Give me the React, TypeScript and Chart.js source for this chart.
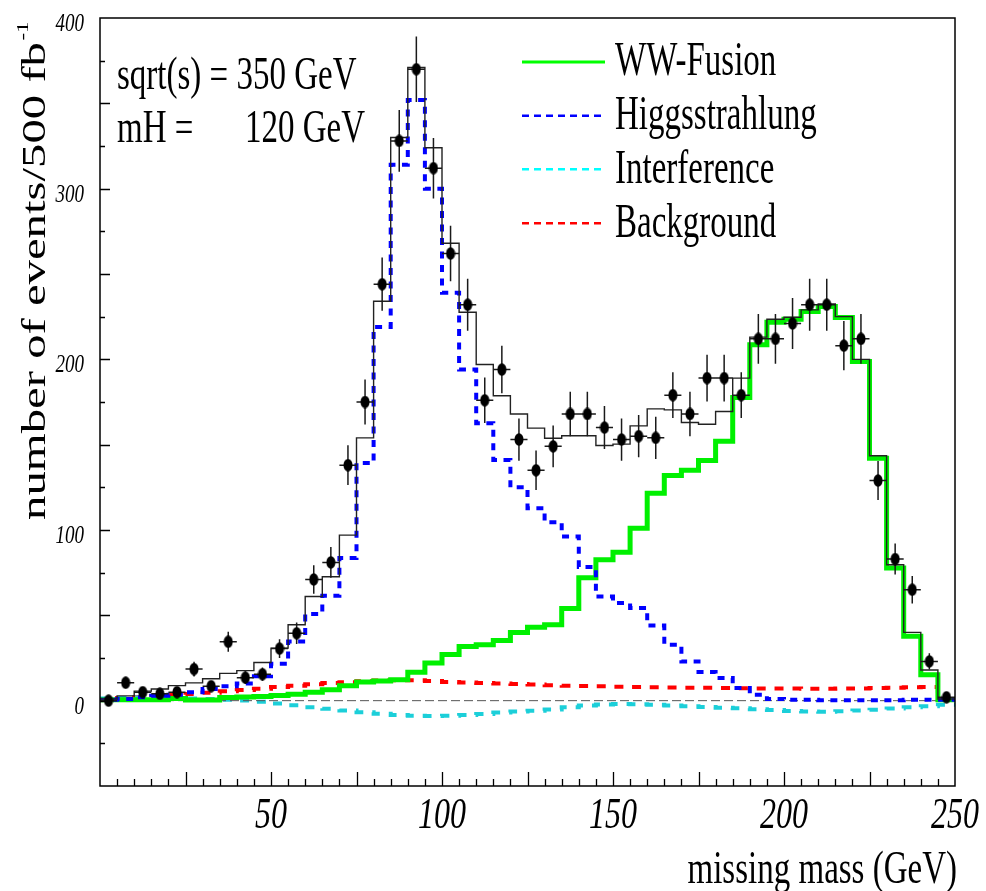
import React, { useEffect, useRef } from "react";
import { Chart, registerables } from "chart.js";

Chart.register(...registerables);

// ---------- data ----------
const BIN_HALF_WIDTH = 2.5;

const binCenters = [
  2.5, 7.5, 12.5, 17.5, 22.5, 27.5, 32.5, 37.5, 42.5, 47.5,
  52.5, 57.5, 62.5, 67.5, 72.5, 77.5, 82.5, 87.5, 92.5, 97.5,
  102.5, 107.5, 112.5, 117.5, 122.5, 127.5, 132.5, 137.5, 142.5, 147.5,
  152.5, 157.5, 162.5, 167.5, 172.5, 177.5, 182.5, 187.5, 192.5, 197.5,
  202.5, 207.5, 212.5, 217.5, 222.5, 227.5, 232.5, 237.5, 242.5, 247.5,
];

const dataCounts = [
  0, 10.5, 5, 4, 5, 18.5, 8.5, 34.5, 13.5, 15.5,
  30.5, 39.5, 71, 81, 138, 175, 244, 328, 370, 312,
  262, 232, 176, 194, 153, 135, 149, 168, 168, 160,
  153, 155, 154, 179, 168, 189, 189, 179, 212, 212,
  221, 232, 232, 208, 212, 129, 83, 65, 23, 2,
];

const dataErrors = [
  0, 3.2, 2.2, 2, 2.2, 4.3, 2.9, 5.9, 3.7, 3.9,
  5.5, 6.3, 8.4, 9, 11.7, 13.2, 15.6, 18.1, 19.2, 17.7,
  16.2, 15.2, 13.3, 13.9, 12.4, 11.6, 12.2, 13, 13, 12.6,
  12.4, 12.4, 12.4, 13.4, 13, 13.7, 13.7, 13.4, 14.6, 14.6,
  14.9, 15.2, 15.2, 14.4, 14.6, 11.4, 9.1, 8.1, 4.8, 1.4,
];

const totalExpected = [
  1, 2.8, 5.6, 6.8, 8.8, 10.4, 12.8, 16, 17.6, 22.4,
  30.8, 44.5, 61, 72.6, 97, 154, 234, 330, 371, 324,
  268, 227.6, 197, 178.7, 168, 159.7, 153.8, 155.2, 155.2, 149.5,
  150.3, 161, 171, 170.4, 163, 162, 169.4, 189, 213, 223.5,
  224.7, 229, 232.5, 225, 200, 143.5, 79.6, 40, 18, 1,
];

const wwFusion = [
  0.6, 0.6, 0.6, 0.6, 1.2, 0.4, 0.4, 1.8, 2.1, 2.5,
  3.1, 3.7, 4.9, 6.4, 8.8, 10.9, 11.5, 12.3, 16.6, 22,
  27, 31.8, 32.8, 35.3, 40, 43, 44.5, 54, 72, 82.6,
  87, 101, 121.6, 132, 135, 140.7, 152, 177.6, 208.5, 221.7,
  223.5, 228, 231, 224.5, 198.7, 142, 77.7, 37.7, 15.2, 0.5,
];

const higgsstrahlung = [
  0.5, 1, 2, 2.9, 3.5, 4.9, 6.8, 8.4, 10, 14.3,
  21.7, 34.7, 50.8, 61.5, 83.6, 139.2, 219, 314, 352, 300,
  239, 194, 162.6, 141, 125, 112.8, 104.6, 96.2, 78.3, 61,
  57.2, 54.3, 44, 32.8, 23, 16.8, 13.3, 7.4, 3.5, 1,
  0.5, 0.5, 0.3, 0.3, 0.3, 0.3, 0.3, 0.5, 0.5, 0.5,
];

const interference = [
  1.2, 1.5, 1.8, 1.8, 1.6, 1.3, 1.0, 0.6, 0.1, -0.6,
  -1.7, -2.7, -3.8, -4.8, -5.8, -6.8, -7.7, -8.4, -8.9, -9.0,
  -8.9, -8.4, -7.8, -7.0, -6.4, -5.9, -5.2, -3.8, -2.8, -2.2,
  -2.0, -2.1, -2.4, -2.8, -3.3, -3.7, -4.1, -4.5, -5.0, -5.5,
  -6.0, -6.4, -6.5, -6.2, -5.8, -5.3, -4.6, -3.9, -3.2, -2.4,
];

const background = [
  0.8, 1.5, 2, 2.6, 3.3, 3.9, 4.6, 5.5, 6.3, 7,
  8, 8.8, 9.6, 10.3, 10.8, 11.4, 11.8, 12, 11.9, 11.5,
  11, 10.6, 10.3, 10, 9.7, 9.4, 9.1, 8.8, 8.6, 8.4,
  8.2, 8, 7.8, 7.7, 7.6, 7.5, 7.4, 7.3, 7.2, 7.1,
  7.1, 7, 7, 7.1, 7.2, 7.4, 7.6, 7.8, 8, 1,
];

const xTickLabels = [50, 100, 150, 200, 250];
const yTickLabels = [0, 100, 200, 300, 400];
const legendLabels = ["WW-Fusion", "Higgsstrahlung", "Interference", "Background"];

// ---------- styling ----------
const SERIF = '"Liberation Serif", "Times New Roman", Times, serif';
const STRETCH = 1.43;
const GREEN = "#00f000";
const BLUE = "#0000ff";
const CYAN_PLOT = "#1ccfd9";
const RED = "#ff0000";

function histPoints(values: number[]) {
  const pts = values.map((v, i) => ({ x: binCenters[i] - BIN_HALF_WIDTH, y: v }));
  const last = values.length - 1;
  pts.push({ x: binCenters[last] + BIN_HALF_WIDTH, y: values[last] });
  return pts;
}

function stretchedText(
  ctx: CanvasRenderingContext2D,
  text: string,
  x: number,
  y: number,
  size: number,
  sy: number,
  align: CanvasTextAlign,
  italic = false
) {
  ctx.save();
  ctx.translate(x, y);
  ctx.scale(1, sy);
  ctx.font = `${italic ? "italic " : ""}${size}px ${SERIF}`;
  ctx.textAlign = align;
  ctx.textBaseline = "alphabetic";
  ctx.fillStyle = "#000";
  ctx.fillText(text, 0, 0);
  ctx.restore();
}

function makeDot(): HTMLCanvasElement {
  const c = document.createElement("canvas");
  c.width = 10;
  c.height = 13;
  const g = c.getContext("2d")!;
  g.fillStyle = "#000";
  g.beginPath();
  g.ellipse(5, 6.5, 4.5, 6.2, 0, 0, Math.PI * 2);
  g.fill();
  return c;
}

const decorPlugin = {
  id: "decor",
  beforeDatasetDraw(chart: any, args: any) {
    if (args.index !== 0) return;
    const ctx: CanvasRenderingContext2D = chart.ctx;
    const xs = chart.scales.x;
    const ys = chart.scales.y;
    ctx.save();
    ctx.strokeStyle = "#1a1a1a";
    ctx.lineWidth = 1.5;
    ctx.beginPath();
    dataCounts.forEach((n, i) => {
      const px = xs.getPixelForValue(binCenters[i]);
      const py = ys.getPixelForValue(n);
      const e = dataErrors[i];
      if (e > 0) {
        ctx.moveTo(px, ys.getPixelForValue(n + e));
        ctx.lineTo(px, ys.getPixelForValue(n - e));
      }
      ctx.moveTo(xs.getPixelForValue(binCenters[i] - BIN_HALF_WIDTH), py);
      ctx.lineTo(xs.getPixelForValue(binCenters[i] + BIN_HALF_WIDTH), py);
    });
    ctx.stroke();
    ctx.restore();
  },
  afterDraw(chart: any) {
    const ctx: CanvasRenderingContext2D = chart.ctx;
    const xs = chart.scales.x;
    const ys = chart.scales.y;
    const a = chart.chartArea;
    ctx.save();

    // frame
    ctx.strokeStyle = "#000";
    ctx.lineWidth = 1.5;
    ctx.strokeRect(a.left, a.top, a.right - a.left, a.bottom - a.top);

    // x ticks (inside, from bottom)
    ctx.lineWidth = 1.3;
    ctx.beginPath();
    for (let v = 5; v < 250; v += 5) {
      const px = Math.round(xs.getPixelForValue(v)) + 0.5;
      const len = v % 25 === 0 ? 14 : 7;
      ctx.moveTo(px, a.bottom);
      ctx.lineTo(px, a.bottom - len);
    }
    // y ticks (inside, from left)
    for (let v = -25; v < 400; v += 25) {
      const py = Math.round(ys.getPixelForValue(v)) + 0.5;
      const len = v % 50 === 0 ? 10 : 5;
      ctx.moveTo(a.left, py);
      ctx.lineTo(a.left + len, py);
    }
    ctx.stroke();

    // tick labels
    xTickLabels.forEach((v) => {
      stretchedText(ctx, String(v), xs.getPixelForValue(v), 828, 32, 1.4, "center", true);
    });
    yTickLabels.forEach((v) => {
      stretchedText(ctx, String(v), 84, ys.getPixelForValue(v) + 13, 19, 1.35, "right", true);
    });

    // x title
    stretchedText(ctx, "missing mass (GeV)", 957, 883, 33, 1.38, "right");

    // y title (rotated, stretched along its baseline)
    ctx.save();
    ctx.translate(45, 520);
    ctx.rotate(-Math.PI / 2);
    ctx.font = `34px ${SERIF}`;
    ctx.fillStyle = "#000";
    ctx.textAlign = "left";
    ctx.textBaseline = "alphabetic";
    const mainTitle = "number of events/500 fb";
    const w = ctx.measureText(mainTitle).width;
    const sx = 478 / w;
    ctx.scale(sx, 1);
    ctx.fillText(mainTitle, 0, 0);
    ctx.font = `16px ${SERIF}`;
    ctx.fillText("-1", w + 1, -17);
    ctx.restore();

    // annotations
    stretchedText(ctx, "sqrt(s) = 350 GeV", 117, 89, 33, STRETCH, "left");
    stretchedText(ctx, "mH =", 117, 141.5, 33, STRETCH, "left");
    stretchedText(ctx, "120 GeV", 245, 141.5, 33, STRETCH, "left");

    // legend
    const legendY = [62, 115.7, 169.3, 223.3];
    const legendStyles = [
      { color: "#00ff00", dash: [] as number[], width: 2.8 },
      { color: BLUE, dash: [7, 5], width: 2.6 },
      { color: "#00ffff", dash: [7, 5], width: 2.6 },
      { color: RED, dash: [7, 5], width: 2.6 },
    ];
    legendLabels.forEach((label, i) => {
      const st = legendStyles[i];
      ctx.save();
      ctx.strokeStyle = st.color;
      ctx.lineWidth = st.width;
      ctx.setLineDash(st.dash);
      ctx.beginPath();
      ctx.moveTo(522, legendY[i]);
      ctx.lineTo(605, legendY[i]);
      ctx.stroke();
      ctx.restore();
      stretchedText(ctx, label, 615, legendY[i] + 13.3, 33, 1.45, "left");
    });

    ctx.restore();
  },
};

export default function App() {
  const canvasRef = useRef<HTMLCanvasElement | null>(null);

  useEffect(() => {
    document.body.style.margin = "0";
    const canvas = canvasRef.current;
    if (!canvas) return;
    const dot = makeDot();

    const lineBase = {
      type: "line" as const,
      pointRadius: 0,
      pointHoverRadius: 0,
      fill: false,
      tension: 0,
      borderCapStyle: "butt" as const,
    };

    const chart = new Chart(canvas, {
      type: "line",
      data: {
        datasets: [
          {
            label: "data",
            type: "line",
            data: binCenters.map((x, i) => ({ x, y: dataCounts[i] })),
            showLine: false,
            pointStyle: dot as any,
            pointRadius: 5,
            pointHoverRadius: 5,
            pointBackgroundColor: "#000",
            pointBorderColor: "#000",
          },
          {
            ...lineBase,
            label: "total",
            data: histPoints(totalExpected),
            stepped: true,
            borderColor: "#222",
            borderWidth: 1.4,
          },
          {
            ...lineBase,
            label: "Higgsstrahlung",
            data: histPoints(higgsstrahlung),
            stepped: true,
            borderColor: BLUE,
            borderWidth: 4,
            borderDash: [7, 6.5],
          },
          {
            ...lineBase,
            label: "WW-Fusion",
            data: histPoints(wwFusion),
            stepped: true,
            borderColor: GREEN,
            borderWidth: 5,
          },
          {
            ...lineBase,
            label: "zero",
            data: [
              { x: 0, y: 0 },
              { x: 250, y: 0 },
            ],
            borderColor: "#555",
            borderWidth: 1,
            borderDash: [9, 4],
          },
          {
            ...lineBase,
            label: "Interference",
            data: histPoints(interference),
            stepped: true,
            borderColor: CYAN_PLOT,
            borderWidth: 4,
            borderDash: [9, 9],
          },
          {
            ...lineBase,
            label: "Background",
            data: histPoints(background),
            stepped: true,
            borderColor: RED,
            borderWidth: 4,
            borderDash: [9, 9],
          },
        ],
      },
      options: {
        animation: false,
        responsive: false,
        devicePixelRatio: 1,
        events: [],
        layout: { padding: { left: 100, right: 31, top: 18, bottom: 105 } },
        scales: {
          x: { type: "linear", min: 0, max: 250, display: false },
          y: { type: "linear", min: -50, max: 400, display: false },
        },
        plugins: {
          legend: { display: false },
          tooltip: { enabled: false },
        },
      },
      plugins: [decorPlugin],
    });

    return () => chart.destroy();
  }, []);

  return (
    <div style={{ position: "absolute", left: 0, top: 0, width: 986, height: 891, background: "#fff" }}>
      <canvas ref={canvasRef} width={986} height={891} style={{ display: "block" }} />
    </div>
  );
}
